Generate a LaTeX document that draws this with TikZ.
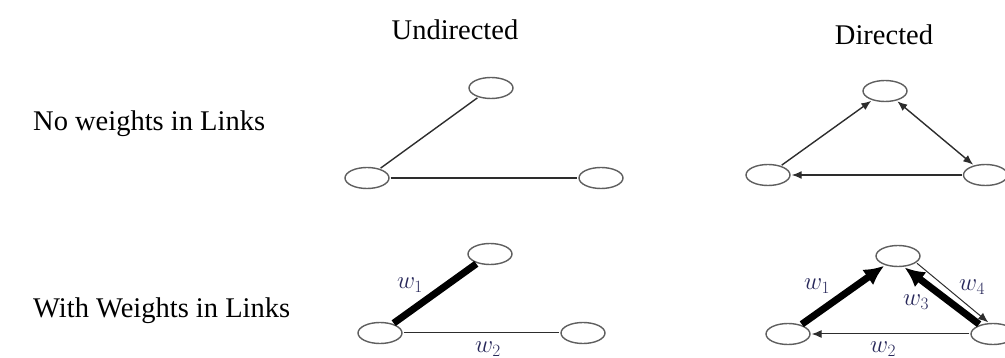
\documentclass[tikz,border=0pt]{standalone}
\usepackage{fontspec}
\setmainfont{Liberation Serif}
\usepackage{xcolor}
\usepackage{tikz}
\usetikzlibrary{shapes.geometric, arrows.meta}
\definecolor{nodegray}{RGB}{95, 95, 95}
\definecolor{linkgray}{RGB}{45, 45, 45}
\definecolor{weightnavy}{RGB}{40, 40, 90}
\tikzset{
  vertex/.style={ellipse, draw=nodegray, line width=1.4pt, minimum width=44pt,
    minimum height=21pt, inner sep=0pt, fill=white},
  link/.style={draw=linkgray, line width=1.4pt, shorten <=1pt, shorten >=1pt},
  heavylink/.style={draw=black, line width=7pt, shorten <=1pt, shorten >=1pt},
  arrow/.style={link, -{Latex[length=10pt,width=8pt]}},
  biarrow/.style={link, {Latex[length=10pt,width=8pt]}-{Latex[length=10pt,width=8pt]}},
  heavyarrow/.style={heavylink, -{Latex[length=20pt,width=19pt]}},
  weight/.style={text=weightnavy, font=\fontsize{24}{26}\selectfont, inner sep=0pt}
}

\begin{document}
\begin{tikzpicture}[
    x=1pt, y=-1pt,
    rowlabel/.style={anchor=base west, inner sep=0pt,
                     font=\fontsize{28.5}{34}\selectfont},
    header/.style={anchor=base, inner sep=0pt,
                   font=\fontsize{28.5}{34}\selectfont},
]
\useasboundingbox (0,0) rectangle (1005,358);

\node (undir)  [header] at (455,40) {Undirected};
\node (dir)    [header] at (884,45) {Directed};
\node (noweig) [rowlabel] at (33,131) {No weights in Links};
\node (weig)   [rowlabel] at (33,318) {With Weights in Links};

\node (utop)   [vertex] at (491,88)   {};
\node (uleft)  [vertex] at (367,178)  {};
\node (uright) [vertex] at (601,178)  {};
\draw[link] (uleft) -- (utop);
\draw[link] (uleft) -- (uright);

\node (dtop)   [vertex] at (885,91)    {};
\node (dleft)  [vertex] at (768,175)   {};
\node (dright) [vertex] at (985.5,175) {};
\draw[arrow]   (dleft)  -- (dtop);
\draw[biarrow] (dtop)   -- (dright);
\draw[arrow]   (dright) -- (dleft);

\node (wutop)   [vertex] at (490,254) {};
\node (wuleft)  [vertex] at (380,333) {};
\node (wuright) [vertex] at (583,333) {};
\draw[heavylink] (wuleft) -- (wutop);
\draw[link, line width=1pt] (wuleft) -- (wuright);
\node (wu1) [weight] at (410,285) {$w_1$};
\node (wu2) [weight] at (488,349) {$w_2$};

\node (wdtop)   [vertex] at (898,256) {};
\node (wdleft)  [vertex] at (788,334) {};
\node (wdright) [vertex] at (993,334) {};
\draw[heavyarrow] (wdleft) -- (wdtop);
\draw[heavyarrow] (wdright.145) -- (wdtop.-62);
\draw[arrow, line width=1pt] (wdtop.-20) -- (wdright.110);
\draw[arrow, line width=1pt] (wdright) -- (wdleft);
\node (wd1) [weight] at (817,286) {$w_1$};
\node (wd4) [weight] at (972,287) {$w_4$};
\node (wd3) [weight] at (916,302) {$w_3$};
\node (wd2) [weight] at (883,349) {$w_2$};
\end{tikzpicture}
\end{document}
